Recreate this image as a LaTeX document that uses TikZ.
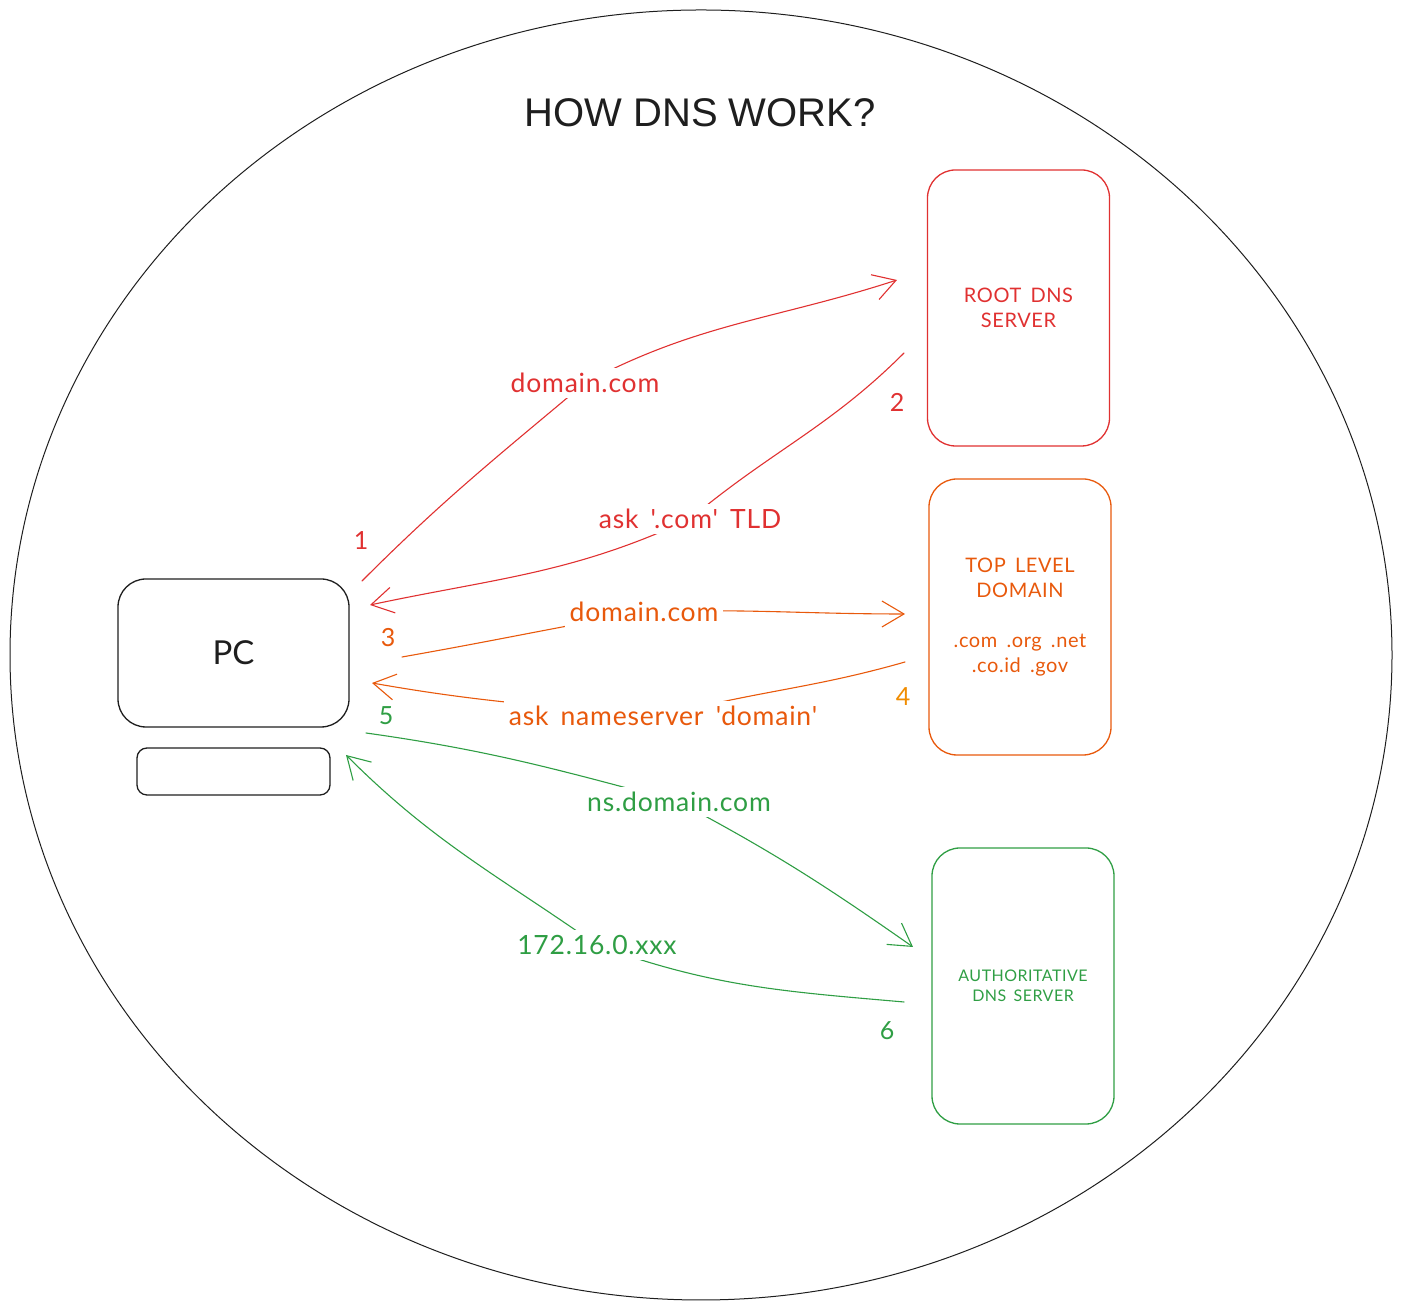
\documentclass[tikz,border=0pt]{standalone}
\usepackage{fontspec}
\setmainfont{Lato}
\newfontfamily\titlefont{Liberation Sans}
\newfontfamily\lblfont[WordSpace=1.6,LetterSpace=3]{Lato}
\usetikzlibrary{arrows.meta,backgrounds}
\definecolor{xred}{HTML}{E03131}
\definecolor{xorange}{HTML}{E8590C}
\definecolor{xyellow}{HTML}{F08C00}
\definecolor{xgreen}{HTML}{2F9E44}
\definecolor{xink}{HTML}{1E1E1E}
\newcommand{\sq}{{\char"27}}
\begin{document}
\begin{tikzpicture}[x=1pt,y=1pt,
  every node/.style={inner sep=0pt},
  srv/.style={draw, line width=1.3pt, rounded corners=28pt, minimum width=182pt, minimum height=276pt, align=center},
  lbl/.style={fill=white, inner sep=5pt, font=\lblfont\fontsize{26.5}{30}\selectfont},
  num/.style={font=\fontsize{25}{30}\selectfont},
  conn/.style={line width=1.1pt, line cap=round},
  arr/.style={conn, -{Straight Barb[length=22pt,width=26pt]}},
  boxtxt/.style={font=\lblfont\fontsize{20}{25}\selectfont, align=center}
]
\useasboundingbox (0,0) rectangle (1403,1308);

% outer ellipse
\draw[xink, line width=1pt] (701,653) ellipse [x radius=691, y radius=645];

% title
\node[text=xink, font=\titlefont\fontsize{40}{48}\selectfont] (title) at (700,1195) {HOW DNS WORK?};

% servers
\node[srv, draw=xred, text=xred, boxtxt] (root) at (1018.5,1000) {ROOT DNS\\SERVER};
\node[srv, draw=xorange, text=xorange, boxtxt] (tld) at (1020,691) {TOP LEVEL\\DOMAIN\\\mbox{}\\.com .org .net\\.co.id .gov};
\node[srv, draw=xgreen, text=xgreen, font=\lblfont\fontsize{16}{20}\selectfont] (auth) at (1023,322) {AUTHORITATIVE\\DNS SERVER};

% PC
\node[draw=xink, line width=1.3pt, rounded corners=28pt, minimum width=231pt, minimum height=148pt, text=xink, font=\fontsize{33}{36}\selectfont] (pc) at (233.5,655) {PC};
\node[draw=xink, line width=1.3pt, rounded corners=10pt, minimum width=193pt, minimum height=47pt] (kbd) at (233.5,536.5) {};

% connector end points
\coordinate (s1) at (362,727);  \coordinate (e1) at (897,1028);
\coordinate (s2) at (904,955);  \coordinate (e2) at (370,703);
\coordinate (s3) at (402,651);  \coordinate (e3) at (905,694);
\coordinate (s4) at (905,646);  \coordinate (e4) at (372,625);
\coordinate (s5) at (366,575);  \coordinate (e5) at (913,361);
\coordinate (s6) at (904,306);  \coordinate (e6) at (346,553);

% labels
\node[lbl, text=xred] (l1) at (585,925) {domain.com};
\node[lbl, text=xred] (l2) at (690,789) {ask \sq.com\sq\ TLD};
\node[lbl, text=xorange] (l3) at (644,696) {domain.com};
\node[lbl, text=xorange] (l4) at (663,592) {ask nameserver \sq domain\sq};
\node[lbl, text=xgreen] (l5) at (679,506) {ns.domain.com};
\node[lbl, text=xgreen] (l6) at (597,363) {172.16.0.xxx};

% step numbers
\node[num, text=xred] (n1) at (361,767) {1};
\node[num, text=xred] (n2) at (897,906) {2};
\node[num, text=xorange] (n3) at (388,670) {3};
\node[num, text=xyellow] (n4) at (903,611) {4};
\node[num, text=xgreen] (n5) at (386,592) {5};
\node[num, text=xgreen] (n6) at (887,277) {6};

\begin{scope}[on background layer]
  \draw[conn, xred] (s1) to[out=45,in=220] (l1.center);
  \draw[arr, xred] (l1.center) to[out=28,in=198] (e1);
  \draw[conn, xred] (s2) to[out=225,in=40] (l2.center);
  \draw[arr, xred] (l2.center) to[out=205,in=12] (e2);
  \draw[conn, xorange] (s3) to[out=10,in=190] (l3.center);
  \draw[arr, xorange] (l3.center) to[out=2,in=180] (e3);
  \draw[conn, xorange] (s4) to[out=196,in=15] (l4.center);
  \draw[arr, xorange] (l4.center) to[out=175,in=350] (e4);
  \draw[conn, xgreen] (s5) to[out=-8,in=165] (l5.center);
  \draw[arr, xgreen] (l5.center) to[out=-28,in=145] (e5);
  \draw[conn, xgreen] (s6) to[out=175,in=-20] (l6.center);
  \draw[arr, xgreen] (l6.center) to[out=145,in=-45] (e6);
\end{scope}
\end{tikzpicture}
\end{document}
